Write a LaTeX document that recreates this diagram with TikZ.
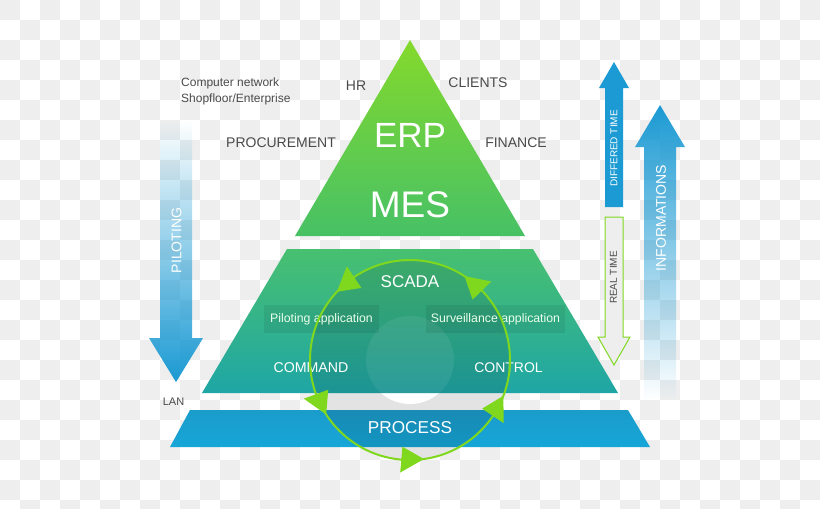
\documentclass[tikz,border=0pt]{standalone}
\usepackage{fontspec}
\setmainfont{Liberation Sans}
\usepackage{tikz}
\usetikzlibrary{fadings}
\definecolor{checkgray}{HTML}{EEEEEE}
\definecolor{labelgray}{HTML}{4A4A4A}
\definecolor{limegreen}{HTML}{80D81E}
\definecolor{arrowblue}{HTML}{1B9AD3}
\definecolor{erptop}{HTML}{84D92C}
\definecolor{erpbot}{HTML}{47C166}
\definecolor{midtop}{HTML}{48C070}
\definecolor{midbot}{HTML}{1FA6A6}
\definecolor{proctop}{HTML}{1B9CCB}
\definecolor{procbot}{HTML}{16A6D8}
\definecolor{bandgray}{HTML}{E3E3E3}
\tikzfading[name=fade top, top color=transparent!100, middle color=transparent!35, bottom color=transparent!0]
\tikzfading[name=fade bottom, top color=transparent!0, middle color=transparent!15, bottom color=transparent!100]
\newcommand{\fsz}[1]{\fontsize{#1}{#1}\selectfont}
\tikzset{lbl/.style={text=labelgray,inner sep=0pt,font=\fsz{14}}}
\tikzset{wlbl/.style={text=white,inner sep=0pt}}
\tikzset{appbox/.style={fill=black,fill opacity=0.07,text opacity=1,text=white!92!green,inner sep=0pt,minimum height=28pt,font=\fsz{12.3}}}
\tikzset{ringtip/.style={fill=limegreen}}

\begin{document}
\begin{tikzpicture}[x=1pt,y=-1pt]
  \useasboundingbox (0,0) rectangle (820,509);
  % checker background
  \begin{scope}
    \clip (0,0) rectangle (820,509);
    \foreach \j in {0,...,25}{
      \pgfmathtruncatemacro{\off}{mod(\j,2)*20}
      \foreach \i in {0,40,...,800}
        \fill[checkgray] (\i+\off,\j*20) rectangle ++(20,20);
    }
  \end{scope}

  \coordinate (apex) at (410,40);
  \coordinate (t1) at (295,236); \coordinate (t2) at (525,236);
  \coordinate (m1) at (287,249); \coordinate (m2) at (533,249);
  \coordinate (m3) at (618,393); \coordinate (m4) at (202,393);
  \coordinate (p1) at (190,410); \coordinate (p2) at (628,410);
  \coordinate (p3) at (650,447); \coordinate (p4) at (170,447);
  \coordinate (ctr) at (410,360);

  % ring backdrop
  \fill[bandgray] (ctr) circle (100);
  \fill[white] (ctr) circle (44);

  % pyramid layers
  \shade[top color=erptop,bottom color=erpbot] (apex) -- (t2) -- (t1) -- cycle;
  \shade[top color=midtop,bottom color=midbot] (m1) -- (m2) -- (m3) -- (m4) -- cycle;
  \shade[top color=proctop,bottom color=procbot] (p1) -- (p2) -- (p3) -- (p4) -- cycle;
  \begin{scope}
    \clip (m1) -- (m2) -- (m3) -- (m4) -- cycle;
    \fill[black,opacity=0.1] (ctr) circle (100);
    \fill[white,opacity=0.07] (ctr) circle (44);
  \end{scope}
  \begin{scope}
    \clip (p1) -- (p2) -- (p3) -- (p4) -- cycle;
    \fill[black,opacity=0.1] (ctr) circle (100);
    \fill[white,opacity=0.07] (ctr) circle (44);
  \end{scope}

  % side arrows
  \fill[arrowblue,path fading=fade top] (160,120) -- (192,120) -- (192,338) -- (203,338)
    -- (176,382) -- (149,338) -- (160,338) -- cycle;
  \fill[arrowblue,path fading=fade bottom] (644,400) -- (644,147) -- (635,147) -- (660,105)
    -- (685,147) -- (676,147) -- (676,400) -- cycle;
  \fill[arrowblue] (605,207) -- (605,88) -- (599,88) -- (614,62) -- (629,88) -- (623,88)
    -- (623,207) -- cycle;
  \filldraw[fill=checkgray,draw=limegreen,line width=1pt] (605,217) -- (623,217) -- (623,337)
    -- (630,337) -- (614,365) -- (598,337) -- (605,337) -- cycle;

  % texts
  \node[appbox,minimum width=115pt] (pilotapp) at (321.5,319) {Piloting application};
  \node[appbox,minimum width=139pt] (survapp) at (495.5,319) {Surveillance application};
  \node[lbl,font=\fontsize{12}{16}\selectfont,align=left,anchor=west] (network) at (181,91)
    {Computer network\\Shopfloor/Enterprise};
  \node[lbl] (hr) at (356,86) {HR};
  \node[lbl] (clients) at (478,82.5) {CLIENTS};
  \node[lbl] (procure) at (281,143) {PROCUREMENT};
  \node[lbl] (finance) at (516,143) {FINANCE};
  \node[wlbl,font=\fsz{35}] (erp) at (410,135.5) {ERP};
  \node[wlbl,font=\fsz{37}] (mes) at (410,205) {MES};
  \node[wlbl,font=\fsz{17}] (scada) at (410,282) {SCADA};
  \node[wlbl,font=\fsz{14.2}] (command) at (311,368) {COMMAND};
  \node[wlbl,font=\fsz{14}] (control) at (508.5,368) {CONTROL};
  \node[wlbl,font=\fsz{17.2}] (process) at (410,427.5) {PROCESS};
  \node[lbl,font=\fsz{11}] (lan) at (173.5,402) {LAN};
  \node[wlbl,font=\fsz{14},rotate=90] (piloting) at (176.5,240.5) {PILOTING};
  \node[wlbl,font=\fsz{10},rotate=90] (differed) at (614,148.5) {DIFFERED TIME};
  \node[lbl,font=\fsz{10},rotate=90] (realtime) at (613.5,277.5) {REAL TIME};
  \node[wlbl,font=\fsz{14},rotate=90] (informations) at (661,218) {INFORMATIONS};

  % control ring
  \draw[limegreen,line width=2pt] (ctr) circle (100);
  \foreach \a in {231,311,155,29,90}
    \fill[ringtip,shift={(ctr)}] (\a-8:100) -- (\a+5:87) -- (\a+5:113) -- cycle;
\end{tikzpicture}
\end{document}
